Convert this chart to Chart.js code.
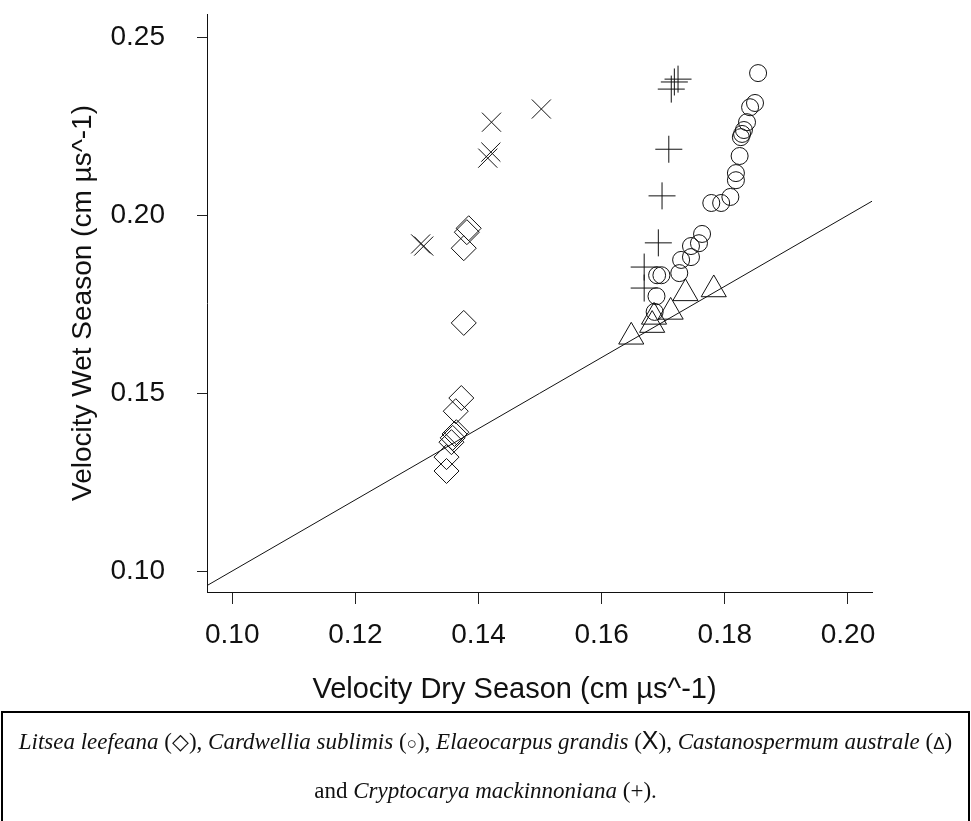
<!DOCTYPE html>
<html>
<head>
<meta charset="utf-8">
<script src="https://cdn.jsdelivr.net/npm/chart.js@4.4.1/dist/chart.umd.min.js"></script>
<style>
    body { margin: 0; background: #fff; width: 971px; height: 821px; overflow: hidden; position: relative; }
    #chartBox { position: absolute; left: 0; top: 0; width: 971px; height: 712px; }
    .caption {
        position: absolute; left: 1px; top: 711px; width: 965px; height: 140px;
        border: 2px solid #000; border-bottom: none;
        font-family: "Liberation Serif", "Times New Roman", serif; font-size: 23px;
        text-align: center; line-height: 47px; padding-top: 4px; color: #111;
    }
    .caption .sym { font-family: "DejaVu Sans", sans-serif; font-size: 22px; }
    .caption .x { font-family: "Liberation Sans", Arial, sans-serif; font-size: 25px; }
    .caption .tri { font-family: "Liberation Sans", Arial, sans-serif; font-size: 17px; }
</style>
</head>
<body>
<div id="chartBox"><canvas id="velocityChart" width="971" height="712"></canvas></div>
<div class="caption">
    <i>Litsea leefeana</i> (<span class="sym">◇</span>), <i>Cardwellia sublimis</i> (<span class="tri">○</span>), <i>Elaeocarpus grandis</i> (<span class="x">X</span>), <i>Castanospermum australe</i> (<span class="tri">Δ</span>)<br>
    and <i>Cryptocarya mackinnoniana</i> (+).
</div>
<script>
// axis ranges and ticks
const xMin = 0.0959, xMax = 0.2039;
const yMin = 0.0941, yMax = 0.2565;
const xTicks = [0.10, 0.12, 0.14, 0.16, 0.18, 0.20];
const yTicks = [0.10, 0.15, 0.20, 0.25];
const xTitle = 'Velocity Dry Season (cm µs^-1)';
const yTitle = 'Velocity Wet Season (cm µs^-1)';

// 1:1 reference line
const lineDry = [xMin, xMax];
const lineWet = [xMin, xMax];

// Litsea leefeana (diamonds)
const litseaDry = [0.1384, 0.1381, 0.1376, 0.1376, 0.1372, 0.1363, 0.1364, 0.1361, 0.1358, 0.1356, 0.1348, 0.1348];
const litseaWet = [0.1963, 0.1952, 0.1907, 0.1697, 0.1486, 0.1449, 0.1390, 0.1385, 0.1374, 0.1362, 0.1320, 0.1281];

// Cardwellia sublimis (circles)
const cardwelliaDry = [0.1854, 0.1849, 0.1841, 0.1836, 0.1831, 0.1828, 0.1826, 0.1824, 0.1818, 0.1818, 0.1809, 0.1794,
    0.1778, 0.1763, 0.1758, 0.1745, 0.1745, 0.1729, 0.1726, 0.1697, 0.1690, 0.1689, 0.1686];
const cardwelliaWet = [0.2399, 0.2315, 0.2303, 0.2261, 0.2239, 0.2228, 0.2219, 0.2166, 0.2118, 0.2098, 0.2051, 0.2034,
    0.2034, 0.1947, 0.1921, 0.1913, 0.1882, 0.1874, 0.1837, 0.1831, 0.1831, 0.1772, 0.1728];

// Elaeocarpus grandis (crosses)
const elaeoDry = [0.1306, 0.1311, 0.1421, 0.1502, 0.1420, 0.1415];
const elaeoWet = [0.1919, 0.1913, 0.2261, 0.2298, 0.2177, 0.2160];

// Castanospermum australe (triangles)
const castanoDry = [0.1648, 0.1682, 0.1685, 0.1712, 0.1736, 0.1782];
const castanoWet = [0.1658, 0.1691, 0.1714, 0.1728, 0.1780, 0.1791];

// Cryptocarya mackinnoniana (plus)
const cryptoDry = [0.1724, 0.1718, 0.1713, 0.1709, 0.1698, 0.1692, 0.1669, 0.1669];
const cryptoWet = [0.2382, 0.2374, 0.2354, 0.2185, 0.2054, 0.1922, 0.1854, 0.1795];

function pts(xs, ys) {
    return xs.map((x, i) => ({ x: x, y: ys[i] }));
}

function species(xs, ys, style, radius, width) {
    return {
        data: pts(xs, ys),
        pointStyle: style,
        pointRadius: radius,
        pointHoverRadius: radius,
        pointBorderColor: '#111',
        pointBackgroundColor: 'rgba(0,0,0,0)',
        pointBorderWidth: width || 1,
        showLine: false
    };
}

// x title sits a little left of the plot centre in the original
const xTitlePlugin = {
    id: 'xTitle',
    afterDraw(chart) {
        const c = chart.ctx;
        const area = chart.chartArea;
        c.save();
        c.font = "29px 'Liberation Sans', Arial, sans-serif";
        c.fillStyle = '#111';
        c.textAlign = 'center';
        c.textBaseline = 'middle';
        c.fillText(xTitle, (area.left + area.right) / 2 - 25, area.bottom + 98);
        c.restore();
    }
};

document.addEventListener("DOMContentLoaded", function () {
    const ctx = document.getElementById("velocityChart").getContext("2d");
    const axisFont = { family: "'Liberation Sans', Arial, sans-serif", size: 28 };

    new Chart(ctx, {
        type: 'scatter',
        data: {
            datasets: [
                {
                    data: pts(lineDry, lineWet),
                    showLine: true,
                    borderColor: '#111',
                    borderWidth: 1,
                    pointRadius: 0
                },
                species(litseaDry, litseaWet, 'rectRot', 12.5),
                species(cardwelliaDry, cardwelliaWet, 'circle', 8.5),
                species(elaeoDry, elaeoWet, 'crossRot', 13.5),
                species(castanoDry, castanoWet, 'triangle', 14.5),
                species(cryptoDry, cryptoWet, 'cross', 13.5)
            ]
        },
        plugins: [xTitlePlugin],
        options: {
            responsive: false,
            animation: false,
            devicePixelRatio: 1,
            layout: { autoPadding: false, padding: { top: 14, right: 99, bottom: 0, left: 0 } },
            plugins: {
                legend: { display: false },
                tooltip: { enabled: false }
            },
            scales: {
                x: {
                    type: 'linear',
                    min: xMin,
                    max: xMax,
                    afterBuildTicks: s => { s.ticks = xTicks.map(v => ({ value: v })); },
                    afterFit: s => { s.height = 120; s.paddingLeft = 0; s.paddingRight = 0; },
                    grid: { drawOnChartArea: false, drawTicks: true, tickLength: 12, color: '#222', lineWidth: 1 },
                    border: { display: true, color: '#111', width: 1 },
                    ticks: {
                        color: '#111',
                        font: axisFont,
                        padding: 14,
                        maxRotation: 0,
                        callback: v => v.toFixed(2)
                    },
                    title: { display: false }
                },
                y: {
                    type: 'linear',
                    min: yMin,
                    max: yMax,
                    afterBuildTicks: s => { s.ticks = yTicks.map(v => ({ value: v })); },
                    afterFit: s => { s.width = 207; s.paddingTop = 0; s.paddingBottom = 0; },
                    grid: { drawOnChartArea: false, drawTicks: true, tickLength: 10, color: '#222', lineWidth: 1 },
                    border: { display: true, color: '#111', width: 1 },
                    ticks: {
                        color: '#111',
                        font: axisFont,
                        padding: 32,
                        callback: v => v.toFixed(2)
                    },
                    title: {
                        display: true,
                        text: yTitle,
                        color: '#111',
                        font: axisFont,
                        padding: { top: 66, bottom: 0 }
                    }
                }
            }
        }
    });
});
</script>
</body>
</html>
